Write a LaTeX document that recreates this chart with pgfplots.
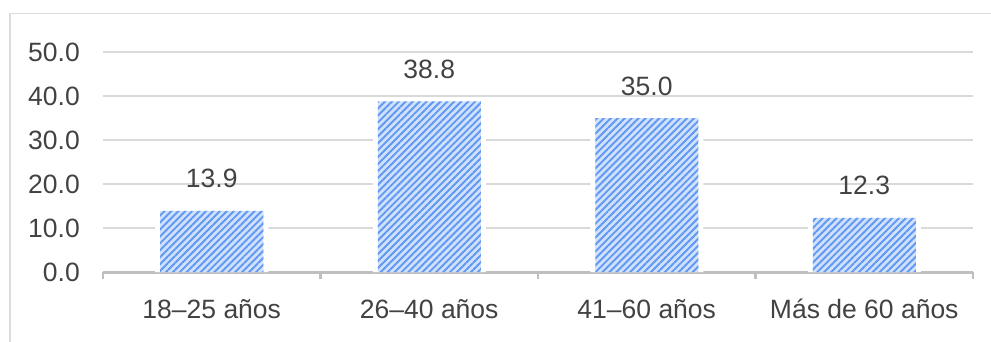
\documentclass[border=0pt]{standalone}
\usepackage{fontspec}
\setmainfont{Liberation Sans}
\usepackage{pgfplots}
\pgfplotsset{compat=1.18}
\usetikzlibrary{patterns.meta}

\definecolor{txt}{HTML}{424242}
\definecolor{gridc}{HTML}{D9D9D9}
\definecolor{axisc}{HTML}{BFBFBF}
\definecolor{barbg}{HTML}{D0E1FB}
\definecolor{barln}{HTML}{6098F4}
\definecolor{framec}{HTML}{DCDCDC}

\pgfplotstableread{
x val
0 13.9
1 38.8
2 35.0
3 12.3
}\agedata

\begin{document}
\begin{tikzpicture}[x=1pt,y=1pt]
\path[use as bounding box] (0,0) rectangle (991,341);
% frame of the chart area
\draw[framec, line width=1.5pt] (10,-5) -- (10,327.5) -- (996,327.5);
\begin{axis}[
  at={(103pt,69pt)}, anchor=south west,
  scale only axis, width=870pt, height=220pt,
  xmin=-0.5, xmax=3.5, ymin=0, ymax=50,
  axis x line*=bottom, axis y line*=left,
  y axis line style={draw=none},
  x axis line style={axisc, line width=3pt},
  ytick={0,10,...,50},
  ymajorgrids,
  major grid style={gridc, line width=1.8pt},
  xtick={0,1,2,3},
  xticklabels={18--25 años, 26--40 años, 41--60 años, Más de 60 años},
  major tick length=0pt,
  minor xtick={-0.5,0.5,1.5,2.5,3.5},
  minor tick length=7pt,
  tick align=outside,
  minor tick style={axisc, line width=2.5pt},
  tick label style={font=\fontsize{26.5}{30}\selectfont, text=txt},
  /pgf/number format/.cd, fixed, fixed zerofill, precision=1, assume math mode=true,
  /pgfplots/.cd,
  yticklabel style={inner sep=0pt, anchor=east, xshift=-23pt},
  xticklabel style={inner sep=0pt, anchor=base, yshift=-46pt},
  ybar,
  nodes near coords style={font=\fontsize{26.5}{30}\selectfont, text=txt, anchor=base, inner sep=0pt, yshift=23pt},
]
% white margin around each bar
\addplot[fill=white, draw=none, bar width=113pt, bar shift=0pt] table[x=x, y=val] {\agedata};
% light blue base of the bars
\addplot[fill=barbg, draw=none, bar width=103pt, bar shift=0pt] table[x=x, y=val] {\agedata};
% hatching and value labels
\addplot[draw=none, pattern={Lines[angle=45, distance=4.9pt, line width=1.9pt]}, pattern color=barln,
  bar width=103pt, bar shift=0pt, nodes near coords] table[x=x, y=val] {\agedata};
\end{axis}
\end{tikzpicture}
\end{document}
